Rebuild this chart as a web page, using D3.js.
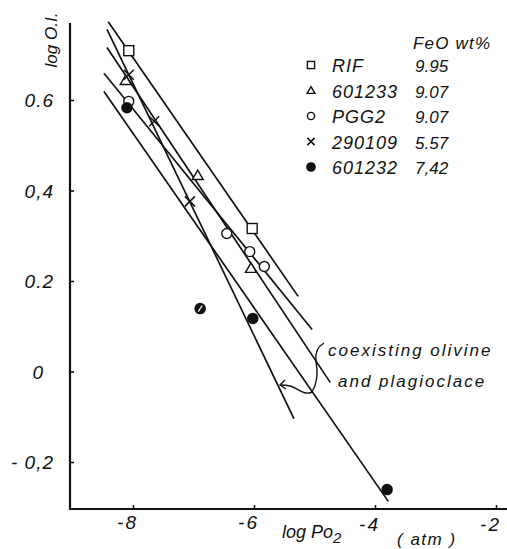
<!DOCTYPE html>
<html>
<head>
<meta charset="utf-8">
<script src="https://cdn.jsdelivr.net/npm/d3@7"></script>
<style>
body { margin: 0; background: #fff; }
text { font-family: "Liberation Sans", Arial, sans-serif; font-style: italic; fill: #111; }
</style>
</head>
<body>
<script>
// samples and FeO content (legend)
var samples = ["RIF", "601233", "PGG2", "290109", "601232"];
var feo = ["9.95", "9.07", "9.07", "5.57", "7,42"];
var symbols = ["square", "triangle", "circle", "cross", "dot"];

// measured points, [log Po2, log O.I.]
var rifPts = [[-8.07, 0.709], [-6.03, 0.316]];
var s601233Pts = [[-8.12, 0.643], [-6.93, 0.433], [-6.05, 0.228]];
var pgg2Pts = [[-8.07, 0.597], [-6.45, 0.305], [-6.07, 0.265], [-5.83, 0.232]];
var s290109Pts = [[-8.07, 0.656], [-7.65, 0.553], [-7.06, 0.376]];
var s601232Pts = [[-8.10, 0.583], [-6.89, 0.139], [-6.02, 0.117], [-3.80, -0.261]];
var hatched = [1]; // index of the 601232 point drawn with a white stroke

// fitted lines, [x1, y1, x2, y2]
var rifLine = [-8.41, 0.773, -5.27, 0.166];
var s290109Line = [-8.43, 0.756, -5.34, -0.104];
var s601233Line = [-8.43, 0.716, -4.74, -0.024];
var pgg2Line = [-8.48, 0.659, -5.04, 0.093];
var s601232Line = [-8.48, 0.619, -3.78, -0.287];

var xTicks = [-8, -6, -4, -2];
var yTicks = [0.6, 0.4, 0.2, 0, -0.2];
var yTickLabels = ["0.6", "0,4", "0.2", "0", "- 0,2"];

var width = 507, height = 549;

var svg = d3.select("body").append("svg")
    .attr("width", width)
    .attr("height", height);

var x = d3.scaleLinear().domain([-8, -2]).range([133, 496]);
var y = d3.scaleLinear().domain([-0.2, 0.6]).range([462, 100]);

var x0 = 70, yBottom = 509, yTop = 23;

// axes
svg.append("line")
    .attr("x1", x0).attr("x2", x0)
    .attr("y1", yTop).attr("y2", yBottom + 1)
    .attr("stroke", "#111").attr("stroke-width", 2.2);
svg.append("line")
    .attr("x1", x0 - 1).attr("x2", 507)
    .attr("y1", yBottom).attr("y2", yBottom)
    .attr("stroke", "#111").attr("stroke-width", 2.2);

var xAxis = svg.append("g")
    .attr("transform", "translate(0," + yBottom + ")")
    .call(d3.axisBottom(x).tickValues(xTicks).tickSize(-4).tickFormat(""));
xAxis.select(".domain").remove();
xAxis.selectAll("line").attr("stroke-width", 1.5);

var yAxis = svg.append("g")
    .attr("transform", "translate(" + x0 + ",0)")
    .call(d3.axisLeft(y).tickValues(yTicks).tickSize(-4).tickFormat(""));
yAxis.select(".domain").remove();
yAxis.selectAll("line").attr("stroke-width", 1.5);

svg.selectAll("text.xlab")
    .data(xTicks)
    .enter().append("text")
    .attr("class", "xlab")
    .attr("x", function (d) { return x(d) + 5; })
    .attr("y", function (d) { return d == -8 || d == -6 ? 529 : 531; })
    .attr("text-anchor", "end")
    .style("font-size", "19px")
    .style("letter-spacing", "2px")
    .text(function (d) { return "-" + Math.abs(d); });

svg.selectAll("text.ylab")
    .data(yTicks)
    .enter().append("text")
    .attr("class", "ylab")
    .attr("x", function (d) { return d == 0 ? 44 : 54; })
    .attr("y", function (d) { return y(d) + 7; })
    .attr("text-anchor", "end")
    .style("font-size", "19px")
    .style("letter-spacing", "1px")
    .text(function (d, i) { return yTickLabels[i]; });

// axis titles
svg.append("text")
    .attr("transform", "translate(57,40) rotate(-90)")
    .attr("text-anchor", "middle")
    .style("font-size", "17px")
    .text("log O.I.");

var xt = svg.append("text")
    .attr("x", 282).attr("y", 538)
    .style("font-size", "18px");
xt.append("tspan").text("log Po");
xt.append("tspan").attr("dy", 5).style("font-size", "15px").text("2");

svg.append("text")
    .attr("x", 397).attr("y", 545)
    .style("font-size", "17px")
    .style("letter-spacing", "1.5px")
    .text("( atm )");

// fitted lines
var lines = [rifLine, s290109Line, s601233Line, pgg2Line, s601232Line];
svg.selectAll("line.fit")
    .data(lines)
    .enter().append("line")
    .attr("class", "fit")
    .attr("x1", function (d) { return x(d[0]); })
    .attr("y1", function (d) { return y(d[1]); })
    .attr("x2", function (d) { return x(d[2]); })
    .attr("y2", function (d) { return y(d[3]); })
    .attr("stroke", "#111")
    .attr("stroke-width", 1.7);

function drawMarker(g, type, cx, cy, s) {
    if (type == "square") {
        g.append("rect").attr("x", cx - s).attr("y", cy - s)
            .attr("width", 2 * s).attr("height", 2 * s)
            .attr("fill", "#fff").attr("stroke", "#111").attr("stroke-width", 1.4);
    } else if (type == "triangle") {
        g.append("path")
            .attr("d", "M" + cx + "," + (cy - s * 1.1) + "L" + (cx + s * 1.1) + "," + (cy + s * 0.8) +
                "L" + (cx - s * 1.1) + "," + (cy + s * 0.8) + "Z")
            .attr("fill", "#fff").attr("stroke", "#111").attr("stroke-width", 1.4);
    } else if (type == "circle") {
        g.append("circle").attr("cx", cx).attr("cy", cy).attr("r", s)
            .attr("fill", "#fff").attr("stroke", "#111").attr("stroke-width", 1.4);
    } else if (type == "cross") {
        g.append("path")
            .attr("d", "M" + (cx - s) + "," + (cy - s) + "L" + (cx + s) + "," + (cy + s) +
                "M" + (cx + s) + "," + (cy - s) + "L" + (cx - s) + "," + (cy + s))
            .attr("stroke", "#111").attr("stroke-width", 1.5);
    } else {
        g.append("circle").attr("cx", cx).attr("cy", cy).attr("r", s * 1.15)
            .attr("fill", "#111");
    }
}

var allPts = [rifPts, s601233Pts, pgg2Pts, s290109Pts, s601232Pts];
var marks = svg.append("g");
allPts.forEach(function (pts, k) {
    pts.forEach(function (p, i) {
        drawMarker(marks, symbols[k], x(p[0]), y(p[1]), 5);
        if (k == 4 && hatched.indexOf(i) >= 0) {
            marks.append("line")
                .attr("x1", x(p[0]) - 2).attr("y1", y(p[1]) + 3)
                .attr("x2", x(p[0]) + 2).attr("y2", y(p[1]) - 3)
                .attr("stroke", "#fff").attr("stroke-width", 1.2);
        }
    });
});

// legend
var legend = svg.append("g");
legend.append("text")
    .attr("x", 413).attr("y", 49)
    .style("font-size", "17px")
    .style("letter-spacing", "1.2px")
    .text("FeO wt%");

samples.forEach(function (s, i) {
    var ly = 65 + i * 25.5;
    drawMarker(legend, symbols[i], 311, ly, symbols[i] == "dot" ? 4.2 : 3.6);
    legend.append("text")
        .attr("x", 332).attr("y", ly + 7)
        .style("font-size", "18px")
        .style("letter-spacing", "1px")
        .text(s);
    legend.append("text")
        .attr("x", 415).attr("y", ly + 7)
        .style("font-size", "17px")
        .text(feo[i]);
});

// annotation
svg.append("text")
    .attr("x", 328).attr("y", 356)
    .style("font-size", "17px")
    .style("letter-spacing", "2px")
    .text("coexisting olivine");
svg.append("text")
    .attr("x", 338).attr("y", 387)
    .style("font-size", "17px")
    .style("letter-spacing", "2px")
    .text("and plagioclace");

svg.append("path")
    .attr("d", "M324,343 C317,347 315,354 316,361 C318,372 317,384 312,392 C304,396 298,388 290,386 C286,385 283,385 280,385")
    .attr("fill", "none").attr("stroke", "#111").attr("stroke-width", 1.4);
svg.append("path")
    .attr("d", "M285,380 L280,385 L286,389")
    .attr("fill", "none").attr("stroke", "#111").attr("stroke-width", 1.4);
</script>
</body>
</html>
